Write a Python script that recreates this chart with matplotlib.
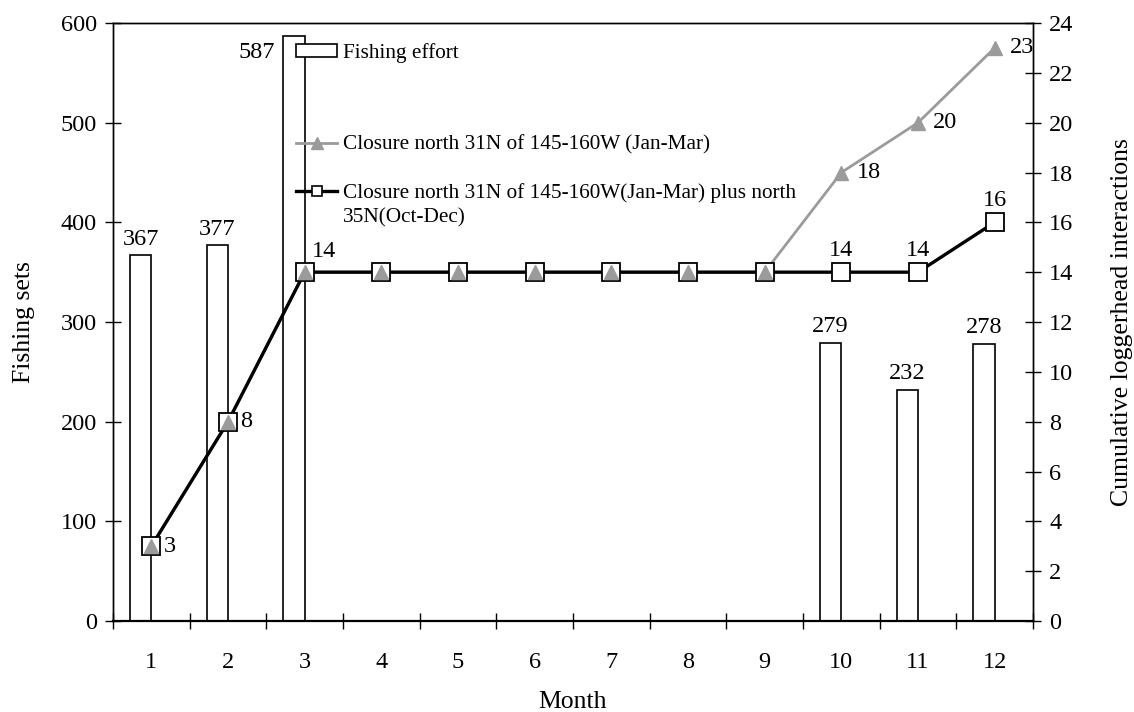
import matplotlib
matplotlib.use('Agg')
import matplotlib.pyplot as plt
from matplotlib.lines import Line2D
from matplotlib.patches import Patch

# ---- data ----
months = list(range(1, 13))
month_labels = [str(m) for m in months]
fishing_sets = [367, 377, 587, 0, 0, 0, 0, 0, 0, 279, 232, 278]
closure_a = [3, 8, 14, 14, 14, 14, 14, 14, 14, 18, 20, 23]
closure_b = [3, 8, 14, 14, 14, 14, 14, 14, 14, 14, 14, 16]
left_ticks = [0, 100, 200, 300, 400, 500, 600]
right_ticks = list(range(0, 25, 2))
label_bar = "Fishing effort"
label_a = "Closure north 31N of 145-160W (Jan-Mar)"
label_b1 = "Closure north 31N of 145-160W(Jan-Mar) plus north"
label_b2 = "35N(Oct-Dec)"

plt.rcParams['font.family'] = ['Liberation Serif', 'DejaVu Serif']
W, H = 1134, 712
fig = plt.figure(figsize=(W / 100, H / 100), dpi=100)
ax = fig.add_axes([113 / W, 1 - 621 / H, 920 / W, 598 / H])
ax2 = ax.twinx()

GREY = '#9b9b9b'
TFS = 17.5
AFS = 18.5
LFS = 15.3

# bars
bw = 0.28
xs_bar = [m - bw / 2 for m in months]
bars = ax.bar(xs_bar, fishing_sets, width=bw, facecolor='white',
              edgecolor='black', linewidth=1.2, zorder=2)
for m, v in zip(months, fishing_sets):
    if v <= 0:
        continue
    if v > 550:
        ax.annotate(str(v), xy=(m - bw, v), xytext=(-6, -12),
                    textcoords='offset points', ha='right', va='center',
                    fontsize=TFS)
    else:
        ax.annotate(str(v), xy=(m - bw / 2, v), xytext=(0, 4),
                    textcoords='offset points', ha='center', va='bottom',
                    fontsize=TFS)

ax.set_xlim(0.5, 12.5)
ax.set_ylim(0, 600)
ax.set_yticks(left_ticks)
ax.set_xticks([m - 0.5 for m in months] + [12.5])
ax.set_xticklabels([])
ax.set_xticks(months, minor=True)
ax.set_xticklabels(month_labels, minor=True)
ax.tick_params(axis='x', which='major', direction='inout', length=11.5, width=1)
ax.tick_params(axis='x', which='minor', length=0, pad=22, labelsize=TFS)
ax.tick_params(axis='y', direction='inout', length=11.5, width=1, labelsize=TFS, pad=6)
ax.set_xlabel('Month', fontsize=AFS, labelpad=13)
ax.set_ylabel('Fishing sets', fontsize=AFS, labelpad=18)
for s in ax.spines.values():
    s.set_linewidth(1.0)
ax.spines['bottom'].set_linewidth(1.6)

# lines
ax2.plot(months, closure_a, color=GREY, lw=2.0, zorder=2)
ax2.plot(months, closure_b, color='black', lw=2.4, zorder=3)
ax2.plot(months, closure_b, ls='none', marker='s', ms=12.5, mfc='white',
         mec='black', mew=1.3, zorder=4)
ax2.plot(months, closure_a, ls='none', marker='^', ms=10.5, mfc=GREY,
         mec=GREY, zorder=5)
ax2.set_ylim(0, 24)
ax2.set_yticks(right_ticks)
ax2.tick_params(axis='y', direction='inout', length=11.5, width=1, labelsize=TFS, pad=6)
ax2.set_ylabel('Cumulative loggerhead interactions', fontsize=AFS,
               labelpad=27, rotation=90)
for s in ax2.spines.values():
    s.set_linewidth(1.0)
ax2.spines['bottom'].set_visible(False)

# line data labels
for i in (0, 1):
    ax2.annotate(str(closure_b[i]), xy=(months[i], closure_b[i]), xytext=(9, 0),
                 textcoords='offset points', ha='left', va='center', fontsize=TFS)
ax2.annotate(str(closure_b[2]), xy=(months[2], closure_b[2]), xytext=(5, 7),
             textcoords='offset points', ha='left', va='bottom', fontsize=TFS)
for i in (9, 10, 11):
    ax2.annotate(str(closure_b[i]), xy=(months[i], closure_b[i]), xytext=(0, 8),
                 textcoords='offset points', ha='center', va='bottom', fontsize=TFS)
    ax2.annotate(str(closure_a[i]), xy=(months[i], closure_a[i]), xytext=(11, 0),
                 textcoords='offset points', ha='left', va='center', fontsize=TFS)

# legends
LX = 296 / W
common = dict(frameon=False, fontsize=LFS, handlelength=1.93, handletextpad=0.28,
              borderpad=0, borderaxespad=0, loc='center left',
              bbox_transform=fig.transFigure)
h1 = Patch(facecolor='white', edgecolor='black', linewidth=1.2)
lg1 = ax2.legend([h1], [label_bar], bbox_to_anchor=(LX, 1 - 53 / H),
                 handleheight=0.56, **common)
ax2.add_artist(lg1)
h2 = Line2D([], [], color=GREY, lw=2.0, marker='^', ms=9, mfc=GREY, mec=GREY)
lg2 = ax2.legend([h2], [label_a], bbox_to_anchor=(LX, 1 - 145 / H), **common)
ax2.add_artist(lg2)
h3 = Line2D([], [], color='black', lw=2.4, marker='s', ms=7.5, mfc='white',
            mec='black', mew=1.2)
lg3 = ax2.legend([h3], [label_b1], bbox_to_anchor=(LX, 1 - 193 / H), **common)
fig.text(343 / W, 1 - 218 / H, label_b2, fontsize=LFS, ha='left', va='center')

fig.savefig('out.png', dpi=100)
